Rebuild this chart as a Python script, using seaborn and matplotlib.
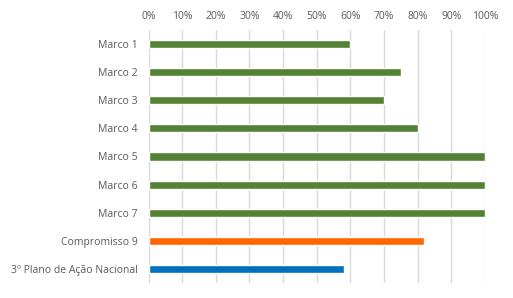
import matplotlib
matplotlib.use("Agg")
import matplotlib.pyplot as plt
import seaborn as sns
import pandas as pd
from matplotlib.ticker import FuncFormatter, MultipleLocator

categories = ["Marco 1", "Marco 2", "Marco 3", "Marco 4", "Marco 5", "Marco 6", "Marco 7",
              "Compromisso 9", "3º Plano de Ação Nacional"]
values = [0.60, 0.75, 0.70, 0.80, 1.00, 1.00, 1.00, 0.82, 0.58]
colors = ["#548235"] * 7 + ["#FF6600", "#0070C0"]

sns.set_theme(style="white")
plt.rcParams['font.family'] = ['Open Sans', 'DejaVu Sans']

df = pd.DataFrame({"cat": categories, "val": values})

fig = plt.figure(figsize=(5.13, 2.98), dpi=100)
ax = fig.add_axes([148.5/513, 1-283/298, (485-148.5)/513, (283-30)/298])
sns.barplot(data=df, x="val", y="cat", hue="cat", palette=colors, legend=False,
            width=0.29, ax=ax, saturation=1)

ax.set_xlim(0, 1.0)
ax.set_ylim(8.5, -0.5)
ax.xaxis.set_major_locator(MultipleLocator(0.1))
ax.xaxis.set_major_formatter(FuncFormatter(lambda v, p: f"{round(v*100)}%"))
ax.xaxis.tick_top()
ax.grid(axis="x", color="#D9D9D9", linewidth=1)
ax.set_axisbelow(True)
for s in ax.spines.values():
    s.set_visible(False)
ax.set_xlabel("")
ax.set_ylabel("")
ax.tick_params(axis="both", length=0, labelsize=7.5, colors="#595959")
ax.tick_params(axis="y", pad=8)
ax.tick_params(axis="x", pad=6)
fig.savefig("out.png", dpi=100)
